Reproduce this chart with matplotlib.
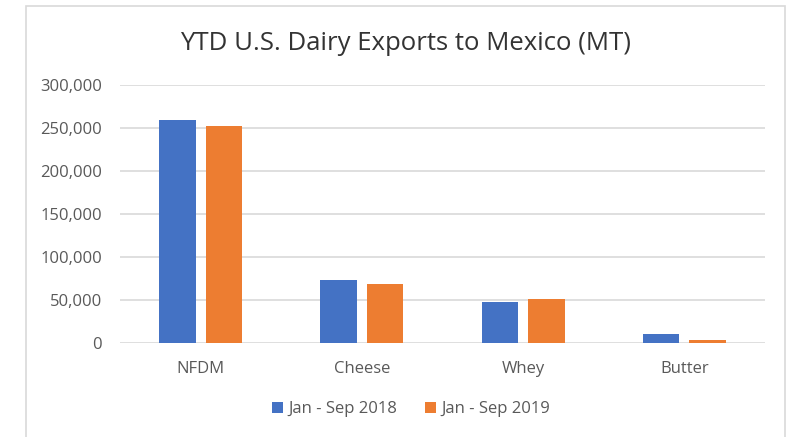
import matplotlib.pyplot as plt
from matplotlib.patches import Rectangle
from matplotlib.ticker import FuncFormatter
import numpy as np

categories = ['NFDM', 'Cheese', 'Whey', 'Butter']
exports_2018 = [258600, 72900, 47300, 9700]
exports_2019 = [251600, 68300, 50400, 2800]
series_names = ['Jan - Sep 2018', 'Jan - Sep 2019']
y_ticks = [0, 50000, 100000, 150000, 200000, 250000, 300000]

plt.rcParams['font.family'] = ['Open Sans', 'DejaVu Sans']
text_col = '#595959'

fig = plt.figure(figsize=(7.98, 4.37), dpi=100)
# chart area border
fig.patches.append(Rectangle((26 / 798, -0.05), 759 / 798, 1.0 - 6 / 437 + 0.05,
                             transform=fig.transFigure, fill=False,
                             edgecolor='#D9D9D9', linewidth=1.2))

ax = fig.add_axes([120 / 798, (437 - 342.7) / 437, 645 / 798, (342.7 - 84.7) / 437])
x = np.arange(len(categories))
w = 0.226
gap = 0.062
ax.bar(x - (w + gap) / 2, exports_2018, w, color='#4472C4', label=series_names[0], zorder=3)
ax.bar(x + (w + gap) / 2, exports_2019, w, color='#ED7D31', label=series_names[1], zorder=3)

ax.set_xlim(-0.5, len(categories) - 0.5)
ax.set_ylim(0, 300000)
ax.set_yticks(y_ticks)
ax.yaxis.set_major_formatter(FuncFormatter(lambda v, p: f'{int(v):,}'))
ax.set_xticks(x)
ax.set_xticklabels(categories)
ax.grid(axis='y', color='#D9D9D9', linewidth=1.2, zorder=0)
for s in ax.spines.values():
    s.set_visible(False)
ax.tick_params(axis='both', length=0, labelsize=12, colors=text_col)
ax.tick_params(axis='y', pad=13)
ax.tick_params(axis='x', pad=13)

fig.text(405.5 / 798, 1 - 44 / 437, 'YTD U.S. Dairy Exports to Mexico (MT)',
         ha='center', va='center', fontsize=18.5, color='#333333')

fig.legend(loc='center', bbox_to_anchor=(411 / 798, 1 - 409 / 437), ncol=2,
           frameon=False, fontsize=12, labelcolor=text_col,
           handlelength=0.65, handleheight=0.65, handletextpad=0.3, columnspacing=1.7)

fig.savefig('out.png', dpi=100)
